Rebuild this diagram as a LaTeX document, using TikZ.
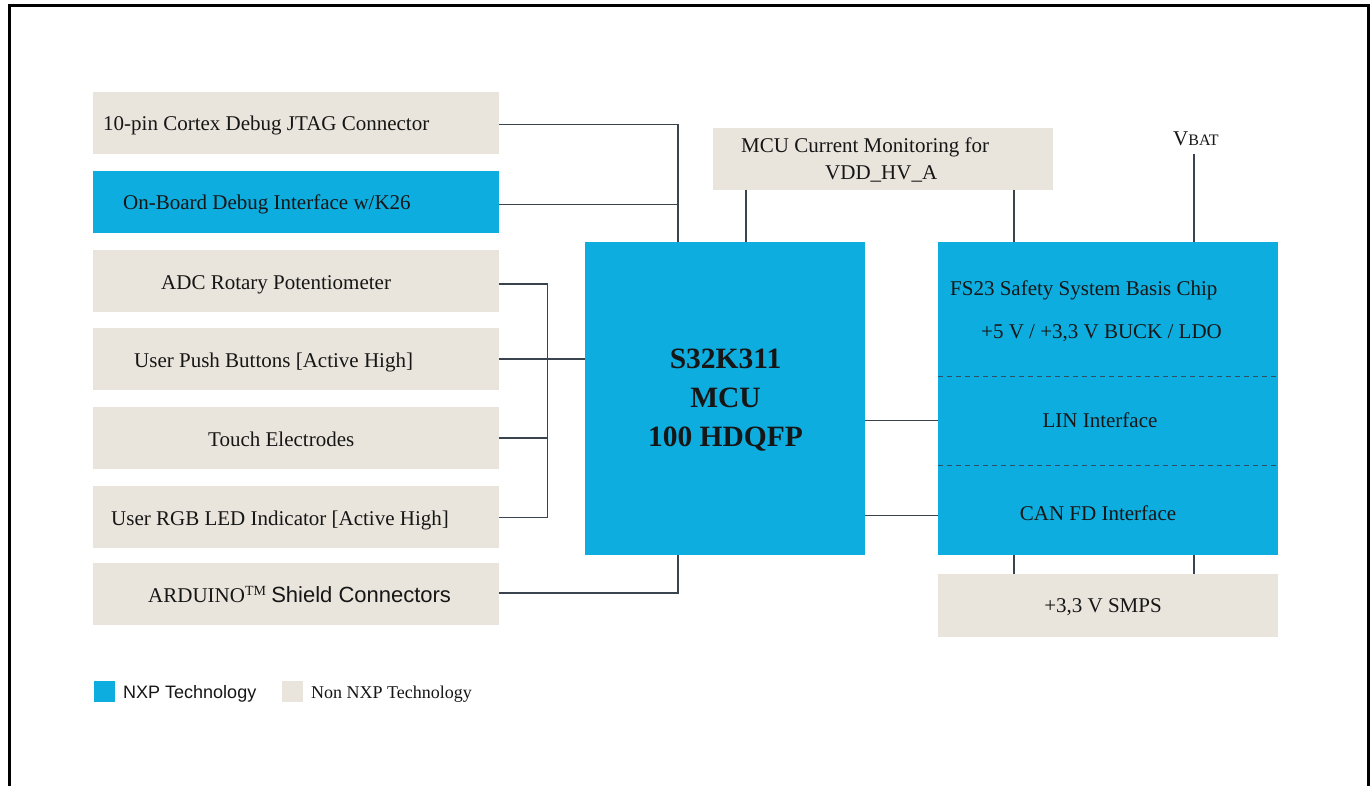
\documentclass[tikz,border=0pt]{standalone}
\usepackage{fontspec}
\setmainfont{Liberation Serif}
\newfontfamily\arialf{Liberation Sans}
\definecolor{nxpblue}{RGB}{14,173,223}
\definecolor{beige}{RGB}{233,229,220}
\definecolor{wirec}{RGB}{58,68,78}
\definecolor{dashc}{RGB}{45,80,100}
\definecolor{ink}{RGB}{22,22,22}
\tikzset{
  bgbox/.style={fill=beige, draw=none, inner sep=0pt, outer sep=0pt},
  nxbox/.style={fill=nxpblue, draw=none, inner sep=0pt, outer sep=0pt},
  txt/.style={anchor=base west, inner sep=0pt, text=ink, font=\fontsize{21}{25}\selectfont},
  ctxt/.style={anchor=base, inner sep=0pt, text=ink, font=\fontsize{21}{25}\selectfont},
  mcutxt/.style={anchor=base, inner sep=0pt, text=ink, font=\bfseries\fontsize{29.5}{35}\selectfont},
  wire/.style={draw=wirec, line width=1.2pt},
  dashline/.style={draw=dashc, line width=1.3pt, dash pattern=on 5pt off 4pt},
  frame/.style={draw=black, line width=3pt}
}
\begin{document}
\begin{tikzpicture}[x=1pt,y=-1pt]
\useasboundingbox (0,0) rectangle (1372,786);
\fill[white] (0,0) rectangle (1372,786);
\draw[frame] (9.5,786) -- (9.5,6) -- (1368,6) -- (1368,786);

% left column
\node[bgbox, minimum width=406pt, minimum height=62pt] (jtag) at (296,123) {};
\node[nxbox, minimum width=406pt, minimum height=62pt] (obd) at (296,202) {};
\node[bgbox, minimum width=406pt, minimum height=62pt] (adc) at (296,281) {};
\node[bgbox, minimum width=406pt, minimum height=62pt] (push) at (296,359) {};
\node[bgbox, minimum width=406pt, minimum height=62pt] (touch) at (296,438) {};
\node[bgbox, minimum width=406pt, minimum height=62pt] (rgb) at (296,517) {};
\node[bgbox, minimum width=406pt, minimum height=62pt] (ard) at (296,594) {};

\node[txt] (jtagt) at (103,131) {10-pin Cortex Debug JTAG Connector};
\node[txt] (obdt) at (123,210) {On-Board Debug Interface w/K26};
\node[txt] (adct) at (161,289) {ADC Rotary Potentiometer};
\node[txt] (pusht) at (134,367) {User Push Buttons [Active High]};
\node[txt] (toucht) at (208,446) {Touch Electrodes};
\node[txt] (rgbt) at (111,525) {User RGB LED Indicator [Active High]};
\node[txt] (ardt) at (148,602) {ARDUINO\raisebox{7pt}{\fontsize{14}{15}\selectfont TM} {\arialf\fontsize{22}{25}\selectfont Shield Connectors}};

% MCU
\node[nxbox, minimum width=280pt, minimum height=313pt] (mcu) at (725,398.5) {};
\node[mcutxt] (mcu1) at (725.5,368) {S32K311};
\node[mcutxt] (mcu2) at (725.5,407) {MCU};
\node[mcutxt] (mcu3) at (725.5,446) {100 HDQFP};

% monitoring
\node[bgbox, minimum width=340pt, minimum height=62pt] (mon) at (883,159) {};
\node[txt] (mont1) at (741,153) {MCU Current Monitoring for};
\node[txt] (mont2) at (825,180) {VDD\_HV\_A};

% FS23
\node[nxbox, minimum width=340pt, minimum height=313pt] (fs) at (1108,398.5) {};
\node[txt] (fst1) at (950,295) {FS23 Safety System Basis Chip};
\node[txt] (fst2) at (981,338) {+5 V / +3,3 V BUCK / LDO};
\node[ctxt] (lint) at (1100,427) {LIN Interface};
\node[ctxt] (cant) at (1098,520) {CAN FD Interface};

% SMPS
\node[bgbox, minimum width=340pt, minimum height=63pt] (smps) at (1108,605.5) {};
\node[ctxt] (smpst) at (1103,612) {+3,3 V SMPS};

% VBAT
\node[txt] (vbat) at (1173,146) {V{\fontsize{16}{18}\selectfont BAT}};

% coordinates
\coordinate (jx) at (678,242);
\coordinate (jb) at (678,555);
\coordinate (bus) at (547.5,359);
\coordinate (m1) at (746,0);
\coordinate (m2) at (1014,0);
\coordinate (vb) at (1194,154);
\coordinate (l1) at (0,420.5);
\coordinate (l2) at (0,515.5);
\coordinate (d1) at (0,376.5);
\coordinate (d2) at (0,465.5);

% connectors
\draw[wire] (jtag.east |- 0,124.5) -| (jx);
\draw[wire] (obd.east |- 0,204.5) -- (jx |- 0,204.5);
\draw[wire] (adc.east |- 0,284) -- (bus |- 0,284) -- (bus |- 0,517.5) -- (rgb.east |- 0,517.5);
\draw[wire] (push.east) -- (mcu.west |- push.east);
\draw[wire] (touch.east) -- (touch.east -| bus);
\draw[wire] (ard.east |- 0,593) -| (jb);
\draw[wire] (mon.south -| m1) -- (mcu.north -| m1);
\draw[wire] (mon.south -| m2) -- (fs.north -| m2);
\draw[wire] (vb) -- (fs.north -| vb);
\draw[wire] (mcu.east |- l1) -- (fs.west |- l1);
\draw[wire] (mcu.east |- l2) -- (fs.west |- l2);
\draw[wire] (fs.south -| m2) -- (smps.north -| m2);
\draw[wire] (fs.south -| vb) -- (smps.north -| vb);
\draw[dashline] (fs.west |- d1) -- (fs.east |- d1);
\draw[dashline] (fs.west |- d2) -- (fs.east |- d2);

% legend
\node[nxbox, minimum width=21pt, minimum height=21pt] (lg1) at (104.5,691.5) {};
\node[anchor=base west, inner sep=0pt, text=ink, font=\arialf\fontsize{18}{20}\selectfont] (lg1t) at (123,698) {NXP Technology};
\node[bgbox, minimum width=21pt, minimum height=21pt] (lg2) at (292.5,691.5) {};
\node[anchor=base west, inner sep=0pt, text=ink, font=\fontsize{18}{20}\selectfont] (lg2t) at (311,698) {Non NXP Technology};
\end{tikzpicture}
\end{document}
